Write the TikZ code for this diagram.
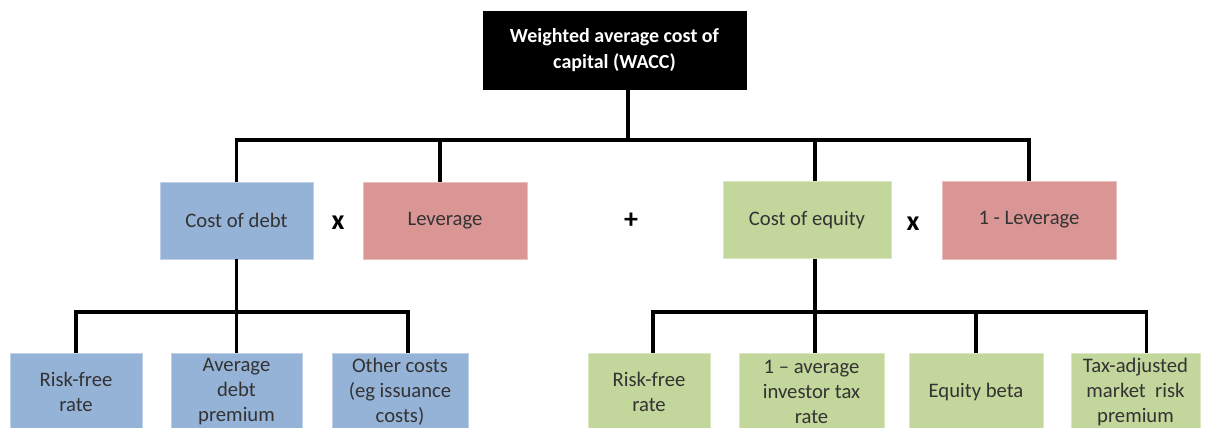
\documentclass[tikz,border=0pt]{standalone}
\usepackage{fontspec}
\setmainfont{Carlito}
\definecolor{debtblue}{HTML}{95B3D7}
\definecolor{levred}{HTML}{D99694}
\definecolor{equitygreen}{HTML}{C3D69B}
\usetikzlibrary{positioning}
\tikzstyle{module} = [
    rectangle,
    draw=white!60!gray,
    line width=0.5pt,
    align=center,
    font=\fontsize{15.5}{18.75}\selectfont,
    text=black!80
]
\tikzstyle{debtbox} = [module, fill=debtblue, draw=debtblue!60!white]
\tikzstyle{levbox} = [module, fill=levred, draw=levred!60!white]
\tikzstyle{equitybox} = [module, fill=equitygreen, draw=equitygreen!60!white]
\tikzstyle{sign} = [font=\fontsize{21}{24}\selectfont\bfseries]
\tikzstyle{link} = [line width=2.3pt, draw=black]

\begin{document}
\begin{tikzpicture}[x=0.75pt, y=-0.75pt]
        \clip (0,0) rectangle (1206,428);
        \useasboundingbox (0,0) rectangle (1206,428);

        % Top
        \node[module, fill=black, draw=black, text=white, font=\fontsize{15}{19.5}\selectfont\bfseries,
              minimum width=197.25pt, minimum height=58.5pt] (wacc) at (614.5,50.5)
              {Weighted average cost of\\capital (WACC)};

        % Middle row
        \node[debtbox, minimum width=114.75pt, minimum height=57.75pt] (cod) at (236.5,220.5) {Cost of debt};
        \node[sign] (times1) at (338,223) {x};
        \node[levbox, minimum width=123pt, minimum height=57.75pt] (lev) at (445,220.5) {Leverage};
        \node[sign] (plus) at (631,221) {+};
        \node[equitybox, minimum width=126pt, minimum height=57.75pt] (coe) at (807,220) {Cost of equity};
        \node[sign] (times2) at (913,224) {x};
        \node[levbox, minimum width=130.5pt, minimum height=58.5pt] (onelev) at (1029,220) {1 - Leverage};

        % Bottom row, debt side
        \node[debtbox, minimum width=99pt, minimum height=58.5pt] (rfd) at (76,392) {Risk-free\\rate};
        \node[debtbox, minimum width=98.25pt, minimum height=58.5pt] (adp) at (236.5,392) {Average\\debt\\premium};
        \node[debtbox, minimum width=102pt, minimum height=58.5pt] (oc) at (400,392) {Other costs\\(eg issuance\\costs)};

        % Bottom row, equity side
        \node[equitybox, minimum width=91.5pt, minimum height=58.5pt] (rfe) at (649,392) {Risk-free\\rate};
        \node[equitybox, minimum width=108.75pt, minimum height=58.5pt] (oat) at (811.5,392) {1 -- average\\investor tax\\rate};
        \node[equitybox, minimum width=100.5pt, minimum height=58.5pt] (eb) at (976,392) {Equity beta};
        \node[equitybox, minimum width=97pt, minimum height=58.5pt] (tamr) at (1135.5,392) {Tax-adjusted\\market\ \ risk\\premium};

        % Bus lines
        \coordinate (topbus) at (628,140);
        \coordinate (debtbus) at (237,312);
        \coordinate (equitybus) at (815,312);

        % Connectors, top
        \draw[link] (wacc.south -| topbus) -- (topbus);
        \draw[link] (cod.north) -- (cod.north |- topbus) -- (onelev.north |- topbus) -- (onelev.north);
        \draw[link] ([xshift=-3.75pt]lev.north) -- ([xshift=-3.75pt]lev.north |- topbus);
        \draw[link] ([xshift=6pt]coe.north) -- ([xshift=6pt]coe.north |- topbus);

        % Connectors, debt side
        \draw[link] (cod.south) -- (adp.north);
        \draw[link] (rfd.north) -- (rfd.north |- debtbus) -- ([xshift=6pt]oc.north |- debtbus) -- ([xshift=6pt]oc.north);

        % Connectors, equity side
        \draw[link] ([xshift=6pt]coe.south) -- ([xshift=6pt]coe.south |- oat.north);
        \draw[link] ([xshift=3pt]rfe.north) -- ([xshift=3pt]rfe.north |- equitybus) -- ([xshift=8.5pt]tamr.north |- equitybus) -- ([xshift=8.5pt]tamr.north);
        \draw[link] (eb.north) -- (eb.north |- equitybus);
    \end{tikzpicture}
\end{document}
